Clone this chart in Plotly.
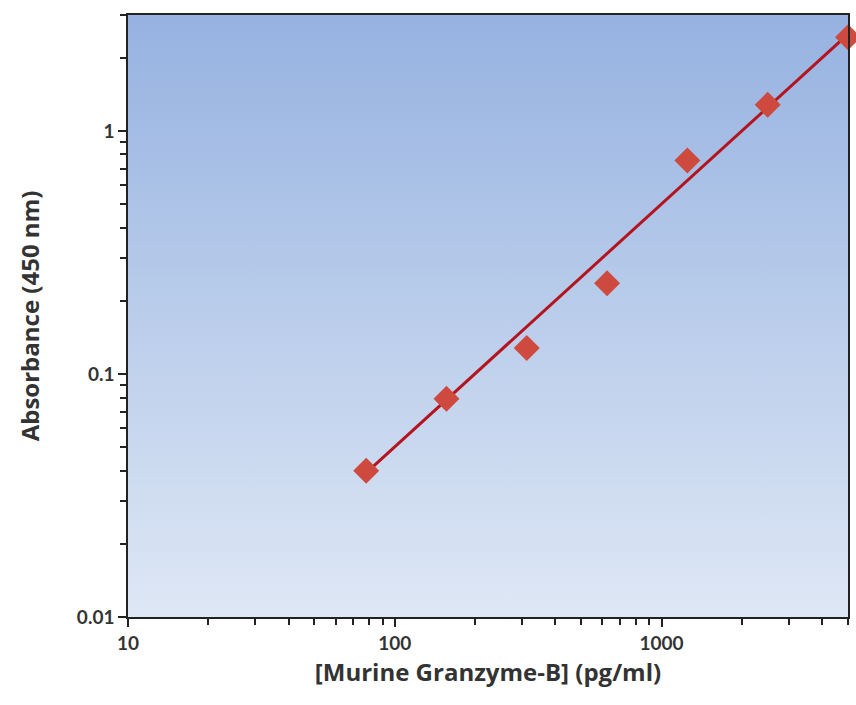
import base64
import plotly.graph_objects as go

# Data
concentration = [78.125, 156.25, 312.5, 625, 1250, 2500, 5000]
absorbance = [0.040, 0.079, 0.128, 0.236, 0.755, 1.28, 2.43]

# Fitted standard curve
fit_x = [78.125, 5000]
fit_y = [0.0392, 2.50]

x_ticks = [10, 100, 1000]
y_ticks = [0.01, 0.1, 1]
x_minor = [m * d for d in (10, 100, 1000) for m in range(2, 10) if m * d <= 5000]
y_minor = [round(m * d, 4) for d in (0.01, 0.1, 1) for m in range(2, 10) if m * d <= 3]

svg = (
    '<svg xmlns="http://www.w3.org/2000/svg" width="100" height="100" preserveAspectRatio="none">'
    '<defs><linearGradient id="g" x1="0" y1="0" x2="0" y2="1">'
    '<stop offset="0" stop-color="#96B2E1"/>'
    '<stop offset="0.5" stop-color="#BACDEB"/>'
    '<stop offset="1" stop-color="#DEE7F5"/>'
    '</linearGradient></defs>'
    '<rect width="100" height="100" fill="url(#g)"/></svg>'
)
bg_uri = "data:image/svg+xml;base64," + base64.b64encode(svg.encode()).decode()

fig = go.Figure()
fig.add_trace(go.Scatter(
    x=fit_x, y=fit_y, mode="lines",
    line=dict(color="#B3141E", width=3),
    showlegend=False, hoverinfo="skip",
))
fig.add_trace(go.Scatter(
    x=concentration, y=absorbance, mode="markers",
    marker=dict(symbol="diamond", size=20, color="#CE4A3F",
                line=dict(width=0)),
    showlegend=False, cliponaxis=False,
))

tick_family = "Lato, Open Sans, sans-serif"
title_family = "Open Sans, Lato, sans-serif"

fig.update_layout(
    width=856, height=705,
    margin=dict(l=128, r=6, t=15, b=88),
    paper_bgcolor="white",
    plot_bgcolor="rgba(0,0,0,0)",
    font=dict(family=tick_family, color="#333333"),
    images=[dict(
        source=bg_uri, xref="paper", yref="paper", x=0, y=1,
        sizex=1, sizey=1, sizing="stretch", layer="below",
        xanchor="left", yanchor="top",
    )],
)

tickfont = dict(size=19, family=tick_family, color="#333333", weight="bold")
titlefont = dict(size=24, family=title_family, color="#333333", weight="bold")

fig.update_xaxes(
    type="log", range=[1, 3.699],
    tickvals=x_ticks, ticktext=[str(v) for v in x_ticks],
    ticks="outside", ticklen=8, tickwidth=1.5, tickcolor="#222222",
    minor=dict(tickvals=x_minor, ticks="outside", ticklen=6, tickwidth=1.5,
               tickcolor="#222222", showgrid=False),
    showline=True, linecolor="#222222", linewidth=1.5, mirror=True,
    showgrid=False, zeroline=False,
    tickfont=tickfont,
    title=dict(text="[Murine Granzyme-B] (pg/ml)", standoff=12, font=titlefont),
)
fig.update_yaxes(
    type="log", range=[-2, 0.477],
    tickvals=y_ticks, ticktext=["0.01", "0.1", "1"],
    ticks="outside", ticklen=8, tickwidth=1.5, tickcolor="#222222",
    minor=dict(tickvals=y_minor, ticks="outside", ticklen=6, tickwidth=1.5,
               tickcolor="#222222", showgrid=False),
    showline=True, linecolor="#222222", linewidth=1.5, mirror=True,
    showgrid=False, zeroline=False,
    tickfont=tickfont,
    title=dict(text="Absorbance (450 nm)", standoff=30, font=titlefont),
)

fig.write_html(
    "out.html",
    config={"displayModeBar": False},
    post_script="document.body.style.margin='0';document.body.style.overflow='hidden';",
)
